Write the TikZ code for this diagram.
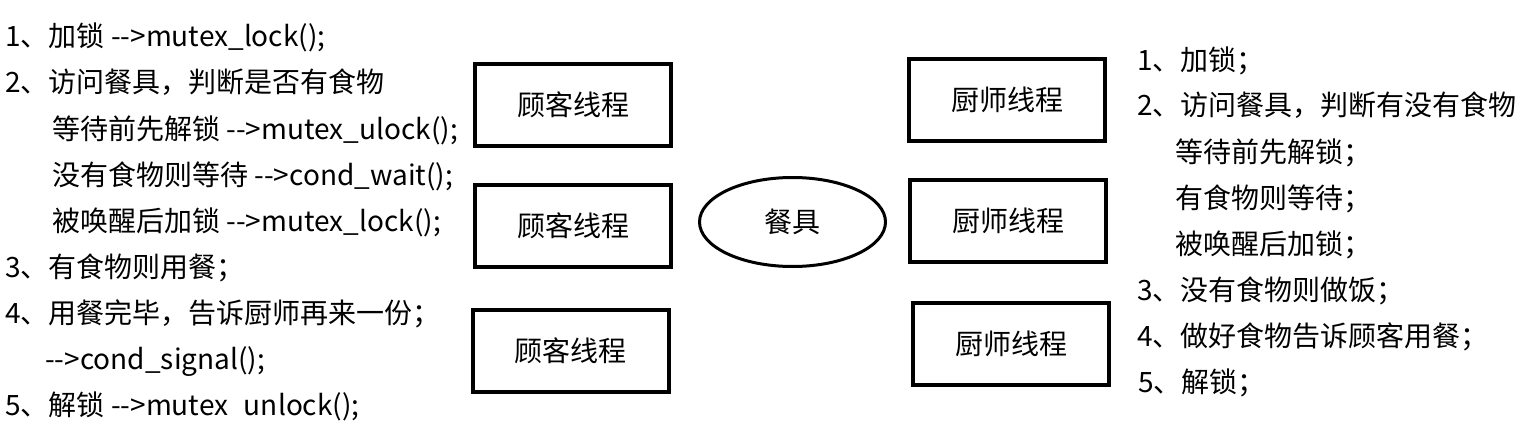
\documentclass[tikz,border=0pt]{standalone}
\usepackage{fontspec}
\setmainfont{Noto Sans CJK SC}[Ligatures=TeXOff]
\usetikzlibrary{shapes.geometric}
\tikzset{
  thread/.style={draw=black,line width=3pt,minimum width=147pt,
                 minimum height=61.5pt,inner sep=0pt},
  dish/.style={ellipse,draw=black,line width=2.25pt,minimum width=139.5pt,
               minimum height=66.75pt,inner sep=0pt},
  listline/.style={anchor=base west,inner sep=0pt}
}
\begin{document}
\begin{tikzpicture}[x=0.75pt,y=-0.75pt,font=\fontsize{21}{25}\selectfont]
  \useasboundingbox (0,0) rectangle (1521,428);
  % consumer side
  \foreach \x/\y/\t [count=\i] in {
      5/47/1、加锁 -->mutex\_lock();,
      5/93/2、访问餐具，判断是否有食物,
      52/139/等待前先解锁 -->mutex\_ulock();,
      52/185/没有食物则等待 -->cond\_wait();,
      52/231/被唤醒后加锁 -->mutex\_lock();,
      5/277/3、有食物则用餐；,
      5/323/4、用餐完毕，告诉厨师再来一份；,
      45/369/-->cond\_signal();,
      5/415/5、解锁 -->mutex\phantom{\_}unlock();}
    \node[listline] (eat\i) at (\x,\y) {\t};
  \node[thread] (cust1) at (573,105) {顾客线程};
  \node[thread] (cust2) at (573,226) {顾客线程};
  \node[thread] (cust3) at (570.5,351) {顾客线程};
  % shared resource
  \node[dish] (dish) at (792.5,222) {餐具};
  % cook side
  \node[thread] (cook1) at (1007,100) {厨师线程};
  \node[thread] (cook2) at (1008,220.5) {厨师线程};
  \node[thread] (cook3) at (1011,344) {厨师线程};
  \foreach \x/\y/\t [count=\i] in {
      1137/70/1、加锁；,
      1137/116/2、访问餐具，判断有没有食物,
      1175/162/等待前先解锁；,
      1175/208/有食物则等待；,
      1175/254/被唤醒后加锁；,
      1137/300/3、没有食物则做饭；,
      1137/346/4、做好食物告诉顾客用餐；,
      1138/392/5、解锁；}
    \node[listline] (cook\i) at (\x,\y) {\t};
\end{tikzpicture}
\end{document}
